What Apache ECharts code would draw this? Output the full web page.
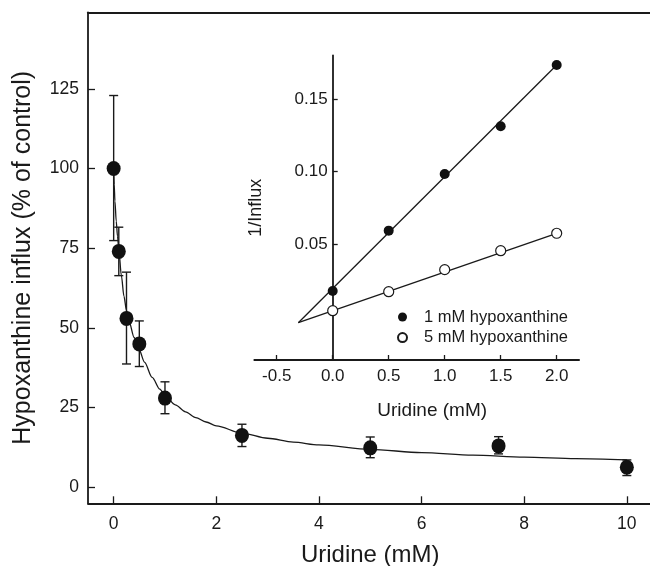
<!DOCTYPE html>
<html><head><meta charset="utf-8">
<script src="https://cdn.jsdelivr.net/npm/echarts@6/dist/echarts.min.js"></script>
<style>html,body{margin:0;padding:0;background:#fff}#c{width:650px;height:566px}</style>
</head><body><div id="c"></div>
<script>
// Main chart data
const mainX = [0, 0.1, 0.25, 0.5, 1, 2.5, 5, 7.5, 10];
const mainY = [100, 74, 53, 45, 28, 16.3, 12.4, 13, 6.3];
const errLow = [77.4, 66.4, 38.7, 37.9, 23.1, 12.8, 9.3, 10.5, 3.7];
const errHigh = [122.9, 81.6, 67.5, 52.2, 33.1, 19.8, 15.8, 15.9, 8.6];
const fitX = [0, 0.01, 0.025, 0.05, 0.075, 0.1, 0.15, 0.2, 0.25, 0.3, 0.4, 0.5, 0.6, 0.75, 0.9, 1.0, 1.2, 1.4, 1.6, 1.8, 2.0, 2.5, 3, 3.5, 4, 5, 6, 7, 8, 9, 10];
const fitY = [100, 95, 89.8, 83.5, 78.8, 74.5, 66.5, 60, 55.5, 52, 47, 43, 39.3, 34.5, 30.8, 28.8, 25.9, 23.7, 21.9, 20.5, 19.3, 17.0, 15.4, 14.2, 13.3, 11.9, 10.9, 10.1, 9.5, 9.0, 8.6];
const mainXTicks = [0, 2, 4, 6, 8, 10];
const mainYTicks = [0, 25, 50, 75, 100, 125];

// Inset data
const insX = [0, 0.5, 1, 1.5, 2];
const ins1mM = [0.0176, 0.0592, 0.0983, 0.1312, 0.1734];
const ins5mM = [0.004, 0.0171, 0.0323, 0.0454, 0.0574];
const regX = [-0.307, 2.0];
const reg1Y = [-0.0043, 0.1734];
const reg5Y = [-0.0043, 0.0574];
const insXTicks = [-0.5, 0, 0.5, 1, 1.5, 2];
const insYTicks = [0.05, 0.1, 0.15];
const legendNames = ['1 mM hypoxanthine', '5 mM hypoxanthine'];

const FONT = 'Liberation Sans, Arial, Helvetica, sans-serif';
const INK = '#1a1a1a';

const zip = (a, b) => a.map((v, i) => [v, b[i]]);

// inset grid geometry (x range -0.7..2.2)
const insLeft = 254.3, insWidth = 324.8, insXMin = -0.7, insXMax = 2.2;
const yAxisShift = -(0 - insXMin) / (insXMax - insXMin) * insWidth; // move inset y axis to x = 0

const chart = echarts.init(document.getElementById('c'), null, {renderer: 'canvas'});
chart.setOption({
  animation: false,
  backgroundColor: '#fff',
  textStyle: {fontFamily: FONT, color: INK},
  grid: [
    {left: 88, top: 12.3, width: 564.5, height: 491, outerBoundsMode: 'none', containLabel: false},
    {left: insLeft, top: 55.5, width: insWidth, height: 304.5, outerBoundsMode: 'none', containLabel: false}
  ],
  legend: {
    orient: 'vertical', left: 392, top: 303.5, itemWidth: 9, itemHeight: 9, itemGap: 3.6,
    icon: 'circle',
    textStyle: {fontFamily: FONT, fontSize: 16.5, color: INK, padding: [0, 0, 0, 12]},
    data: legendNames
  },
  xAxis: [
    {gridIndex: 0, type: 'value', min: -0.5, max: 10.5,
      axisLine: {onZero: false, lineStyle: {color: INK, width: 1.8}},
      axisTick: {inside: true, length: 7, customValues: mainXTicks, lineStyle: {color: INK, width: 1.3}},
      axisLabel: {customValues: mainXTicks, fontSize: 17.5, color: INK, margin: 12, fontFamily: FONT},
      splitLine: {show: false},
      name: 'Uridine (mM)', nameLocation: 'middle', nameGap: 40,
      nameTextStyle: {fontSize: 24, color: INK, fontFamily: FONT}},
    {gridIndex: 1, type: 'value', min: insXMin, max: insXMax,
      axisLine: {onZero: false, lineStyle: {color: INK, width: 1.8}},
      axisTick: {inside: true, length: 5, customValues: insXTicks, lineStyle: {color: INK, width: 1.3}},
      axisLabel: {customValues: insXTicks, fontSize: 17, color: INK, margin: 8, fontFamily: FONT,
        formatter: v => v.toFixed(1)},
      splitLine: {show: false},
      name: 'Uridine (mM)', nameLocation: 'middle', nameGap: 41,
      nameTextStyle: {fontSize: 19, color: INK, fontFamily: FONT, padding: [0, 0, 0, 31]}},
    {gridIndex: 0, type: 'value', min: -0.5, max: 10.5, position: 'top',
      axisLine: {onZero: false, lineStyle: {color: INK, width: 1.8}},
      axisTick: {show: false}, axisLabel: {show: false}, splitLine: {show: false}}
  ],
  yAxis: [
    {gridIndex: 0, type: 'value', min: -5, max: 149,
      axisLine: {onZero: false, lineStyle: {color: INK, width: 1.8}},
      axisTick: {inside: true, length: 7, customValues: mainYTicks, lineStyle: {color: INK, width: 1.3}},
      axisLabel: {customValues: mainYTicks, fontSize: 17.5, color: INK, margin: 9, fontFamily: FONT},
      splitLine: {show: false},
      name: 'Hypoxanthine influx (% of control)', nameLocation: 'middle', nameGap: 52,
      nameTextStyle: {fontSize: 25, color: INK, fontFamily: FONT}},
    {gridIndex: 1, type: 'value', min: -0.03, max: 0.18, offset: yAxisShift,
      axisLine: {onZero: false, lineStyle: {color: INK, width: 1.8}},
      axisTick: {inside: true, length: 5, customValues: insYTicks, lineStyle: {color: INK, width: 1.3}},
      axisLabel: {customValues: insYTicks, fontSize: 17, color: INK, margin: 5, fontFamily: FONT,
        formatter: v => v.toFixed(2)},
      splitLine: {show: false},
      name: '1/Influx', nameLocation: 'middle', nameGap: 68,
      nameTextStyle: {fontSize: 18, color: INK, fontFamily: FONT}}
  ],
  series: [
    {type: 'line', xAxisIndex: 0, yAxisIndex: 0, data: zip(fitX, fitY), smooth: 0.3, smoothMonotone: 'x',
      showSymbol: false, symbol: 'none', lineStyle: {color: INK, width: 1.3}, z: 2, silent: true},
    {type: 'custom', xAxisIndex: 0, yAxisIndex: 0, z: 3,
      data: mainX.map((x, i) => [x, errLow[i], errHigh[i]]),
      renderItem: (params, api) => {
        const lo = api.coord([api.value(0), api.value(1)]);
        const hi = api.coord([api.value(0), api.value(2)]);
        const w = 4.5;
        const st = {stroke: INK, lineWidth: 1.4};
        return {type: 'group', children: [
          {type: 'line', shape: {x1: lo[0], y1: lo[1], x2: hi[0], y2: hi[1]}, style: st},
          {type: 'line', shape: {x1: lo[0] - w, y1: lo[1], x2: lo[0] + w, y2: lo[1]}, style: st},
          {type: 'line', shape: {x1: hi[0] - w, y1: hi[1], x2: hi[0] + w, y2: hi[1]}, style: st}
        ]};
      }},
    {type: 'scatter', xAxisIndex: 0, yAxisIndex: 0, data: zip(mainX, mainY), symbol: 'circle',
      symbolSize: [14, 15], itemStyle: {color: '#111', opacity: 1}, z: 4},
    {type: 'line', xAxisIndex: 1, yAxisIndex: 1, data: zip(regX, reg1Y), showSymbol: false, symbol: 'none',
      lineStyle: {color: INK, width: 1.3}, z: 5},
    {type: 'line', xAxisIndex: 1, yAxisIndex: 1, data: zip(regX, reg5Y), showSymbol: false, symbol: 'none',
      lineStyle: {color: INK, width: 1.3}, z: 5},
    {name: legendNames[0], type: 'scatter', xAxisIndex: 1, yAxisIndex: 1, data: zip(insX, ins1mM),
      symbol: 'circle', symbolSize: 10, itemStyle: {color: '#111', opacity: 1}, z: 6},
    {name: legendNames[1], type: 'scatter', xAxisIndex: 1, yAxisIndex: 1, data: zip(insX, ins5mM),
      symbol: 'circle', symbolSize: 10, itemStyle: {color: '#fff', borderColor: INK, borderWidth: 1.2, opacity: 1}, z: 6}
  ]
});
</script></body></html>
